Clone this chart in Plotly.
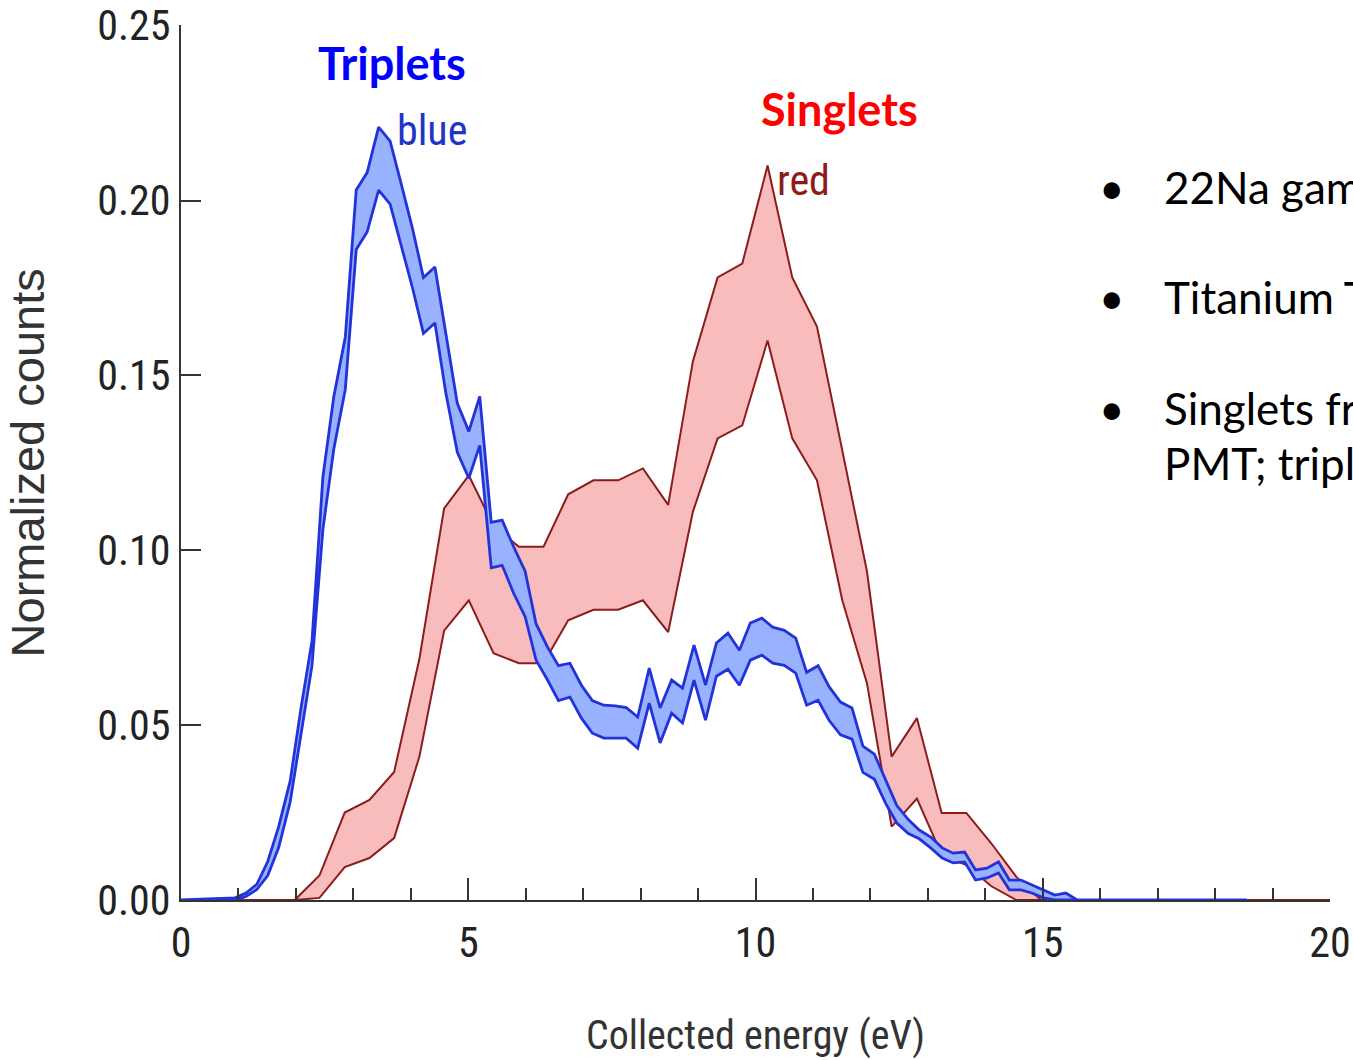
import plotly.graph_objects as go

# ---------------- data ----------------
blue_x = [0.0, 0.94, 1.13, 1.32, 1.51, 1.70, 1.90, 2.09, 2.28, 2.47, 2.66, 2.86, 3.05, 3.24,
          3.44, 3.64, 3.83, 4.03, 4.22, 4.42, 4.61, 4.81, 5.01, 5.20, 5.40, 5.59, 5.79, 5.99,
          6.18, 6.38, 6.57, 6.77, 6.97, 7.16, 7.36, 7.56, 7.75, 7.95, 8.15, 8.34, 8.54, 8.73,
          8.93, 9.13, 9.32, 9.52, 9.72, 9.91, 10.11, 10.30, 10.50, 10.70, 10.89, 11.09, 11.28,
          11.48, 11.68, 11.87, 12.07, 12.27, 12.46, 12.66, 12.85, 13.05, 13.25, 13.44, 13.64,
          13.83, 14.03, 14.23, 14.42, 14.62, 14.81, 15.01, 15.21, 15.40, 15.60, 18.55]
blue_upper = [0.0, 0.0006, 0.002, 0.0045, 0.011, 0.021, 0.034, 0.055, 0.074, 0.121, 0.144, 0.161,
              0.203, 0.208, 0.221, 0.217, 0.205, 0.192, 0.178, 0.181, 0.162, 0.142, 0.134, 0.144,
              0.108, 0.1086, 0.101, 0.094, 0.079, 0.0723, 0.067, 0.0677, 0.0614, 0.057, 0.0557,
              0.0555, 0.055, 0.0523, 0.0663, 0.0549, 0.0629, 0.0606, 0.0729, 0.0615, 0.0735,
              0.0763, 0.0714, 0.0792, 0.0806, 0.078, 0.0771, 0.0749, 0.0651, 0.067, 0.061,
              0.0566, 0.0549, 0.044, 0.0417, 0.034, 0.027, 0.023, 0.020, 0.018, 0.0149, 0.0134,
              0.0137, 0.0086, 0.0091, 0.0109, 0.0057, 0.0057, 0.0043, 0.0029, 0.0014, 0.002,
              0.0, 0.0]
blue_lower = [0.0, 0.0, 0.001, 0.003, 0.007, 0.015, 0.028, 0.047, 0.067, 0.106, 0.129, 0.146,
              0.186, 0.191, 0.203, 0.199, 0.187, 0.175, 0.162, 0.165, 0.145, 0.128, 0.1206, 0.130,
              0.095, 0.0957, 0.0877, 0.081, 0.0686, 0.0629, 0.057, 0.058, 0.052, 0.0477, 0.0463,
              0.0463, 0.0463, 0.0434, 0.0563, 0.0449, 0.0534, 0.0506, 0.0629, 0.0514, 0.064,
              0.066, 0.0614, 0.0686, 0.070, 0.0677, 0.0671, 0.0649, 0.0557, 0.0571, 0.0514,
              0.0472, 0.046, 0.0365, 0.0345, 0.0275, 0.022, 0.019, 0.0175, 0.0149, 0.012, 0.0106,
              0.0109, 0.0057, 0.0063, 0.0077, 0.0029, 0.0029, 0.002, 0.0006, 0.0, 0.0, 0.0, 0.0]

red_x = [0.94, 1.98, 2.41, 2.85, 3.28, 3.71, 4.15, 4.58, 5.01, 5.44, 5.88, 6.31, 6.74, 7.18,
         7.61, 8.04, 8.48, 8.91, 9.34, 9.77, 10.21, 10.64, 11.07, 11.51, 11.94, 12.37, 12.81,
         13.24, 13.67, 14.10, 14.54, 14.97, 20.0]
red_upper = [0.0, 0.0, 0.007, 0.025, 0.0286, 0.0366, 0.069, 0.112, 0.1214, 0.107, 0.101, 0.101,
             0.116, 0.120, 0.120, 0.1234, 0.113, 0.154, 0.178, 0.182, 0.210, 0.178, 0.164,
             0.129, 0.094, 0.041, 0.052, 0.0249, 0.0249, 0.0163, 0.0066, 0.0, 0.0]
red_lower = [0.0, 0.0, 0.0006, 0.0094, 0.012, 0.0177, 0.041, 0.077, 0.0857, 0.0706, 0.0677,
             0.0677, 0.080, 0.083, 0.083, 0.0857, 0.0766, 0.111, 0.132, 0.1357, 0.160, 0.132,
             0.120, 0.0857, 0.062, 0.021, 0.029, 0.013, 0.010, 0.004, 0.0, 0.0, 0.0]

x_ticks = [0, 5, 10, 15, 20]
y_ticks = [0.00, 0.05, 0.10, 0.15, 0.20, 0.25]
y_tick_text = ["0.00", "0.05", "0.10", "0.15", "0.20", "0.25"]

bullets = ["22Na gam", "Titanium T", "Singlets fr"]
bullet_cont = "PMT; tripl"

# ---------------- styling ----------------
NARROW = "Liberation Sans Narrow, Arial Narrow, Roboto Condensed, Liberation Sans, Arial, sans-serif"
SANS = "Liberation Sans, Arial, sans-serif"
CAL = "Lato, Carlito, Calibri, Noto Sans, sans-serif"

fig = go.Figure()

fig.add_trace(go.Scatter(
    x=red_x + red_x[::-1], y=red_upper + red_lower[::-1],
    mode="lines", fill="toself", fillcolor="#f9bcbc",
    line=dict(color="#8c1c1c", width=2), hoverinfo="skip", showlegend=False, name="red"))

fig.add_trace(go.Scatter(
    x=blue_x + blue_x[::-1], y=blue_upper + blue_lower[::-1],
    mode="lines", fill="toself", fillcolor="#98b2ff",
    line=dict(color="#2233d9", width=2.8), hoverinfo="skip", showlegend=False, name="blue"))

annotations = [
    dict(x=3.67, y=0.2394, xref="x", yref="y", text="<b>Triplets</b>", showarrow=False,
         font=dict(family=CAL, size=45, color="#0000ff")),
    dict(x=11.47, y=0.2263, xref="x", yref="y", text="<b>Singlets</b>", showarrow=False,
         font=dict(family=CAL, size=45, color="#ff0000")),
    dict(x=4.37, y=0.2200, xref="x", yref="y", text="blue", showarrow=False,
         font=dict(family=NARROW, size=42, color="#2233c8")),
    dict(x=10.84, y=0.2057, xref="x", yref="y", text="red", showarrow=False,
         font=dict(family=NARROW, size=42, color="#8c1c1c")),
    dict(x=-0.1332, y=0.5, xref="paper", yref="paper", text="Normalized counts",
         textangle=-90, showarrow=False, xanchor="center", yanchor="middle",
         font=dict(family=SANS, size=47, color="#333333")),
    dict(x=0.5, y=-0.155, xref="paper", yref="paper", text="Collected energy (eV)",
         showarrow=False, xanchor="center", yanchor="middle",
         font=dict(family=NARROW, size=40, color="#333333")),
]

bullet_y = [0.815, 0.689, 0.562]
for txt, yy in zip(bullets, bullet_y):
    annotations.append(dict(x=0.810, y=yy, xref="paper", yref="paper", text="•",
                            showarrow=False, xanchor="center", yanchor="middle",
                            font=dict(family=CAL, size=44, color="#000000")))
    annotations.append(dict(x=0.854, y=yy, xref="paper", yref="paper", text=txt,
                            showarrow=False, xanchor="left", yanchor="middle",
                            font=dict(family=CAL, size=44, color="#000000")))
annotations.append(dict(x=0.854, y=0.499, xref="paper", yref="paper", text=bullet_cont,
                        showarrow=False, xanchor="left", yanchor="middle",
                        font=dict(family=CAL, size=44, color="#000000")))

fig.update_layout(
    width=1353, height=1060,
    margin=dict(l=181, r=23, t=25, b=160, autoexpand=False),
    paper_bgcolor="white", plot_bgcolor="white",
    showlegend=False,
    annotations=annotations,
    xaxis=dict(range=[0, 20], tickvals=x_ticks, ticks="inside", ticklen=22, tickwidth=2,
               tickcolor="#333333", showline=True, linecolor="#333333", linewidth=2,
               showgrid=False, zeroline=False, ticklabelstandoff=5, automargin=False,
               ticklabeloverflow="allow",
               minor=dict(ticks="inside", ticklen=12, tickwidth=2, tickcolor="#333333",
                          dtick=1, showgrid=False),
               tickfont=dict(family=NARROW, size=42, color="#222222")),
    yaxis=dict(range=[0, 0.2502], tickvals=y_ticks, ticktext=y_tick_text, ticks="inside",
               ticklen=20, tickwidth=2, tickcolor="#333333", showline=True,
               linecolor="#333333", linewidth=2, showgrid=False, zeroline=False,
               ticklabelstandoff=0, automargin=False, ticklabeloverflow="allow",
               tickfont=dict(family=NARROW, size=42, color="#222222")),
)

fig.write_html("out.html", config={"displayModeBar": False},
               post_script="document.body.style.margin='0';document.body.style.overflow='hidden';")
